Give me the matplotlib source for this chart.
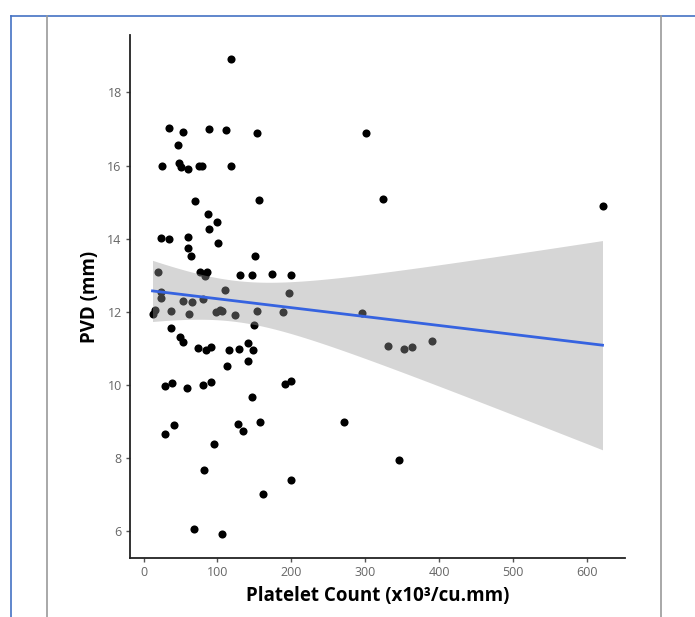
import numpy as np
import matplotlib
matplotlib.use('Agg')
import matplotlib.pyplot as plt
from matplotlib.lines import Line2D

plt.rcParams['font.family'] = ['Open Sans', 'DejaVu Sans']

# ── Data ────────────────────────────────────────────────────────────────
platelet = [118, 34, 53, 47, 89, 112, 153,
            25, 48, 50, 60, 75, 79, 118,
            70, 156, 87, 100, 88,
            23, 35, 60, 101, 60, 64, 151,
            19, 76, 86, 83, 130, 147, 174, 199,
            24, 24, 53, 66, 80, 110, 197,
            12, 16, 37.5, 62, 98.5, 104, 106.5, 124, 153.5, 189,
            37, 49, 53, 73, 85, 91, 116, 129, 142, 148, 149.5, 142, 113,
            28.5, 38, 59, 80, 91, 192, 199, 147,
            41, 29, 128, 135, 157.6, 95, 82, 199, 161, 68, 106,
            301, 324, 621.5, 296, 331, 352, 364, 390, 272, 346]
pvd = [18.92, 17.02, 16.93, 16.57, 17.0, 16.96, 16.89,
       15.98, 16.08, 15.97, 15.9, 15.99, 15.99, 15.98,
       15.03, 15.06, 14.68, 14.47, 14.26,
       14.02, 14.0, 14.04, 13.89, 13.75, 13.54, 13.54,
       13.08, 13.08, 13.08, 12.97, 13.01, 13.01, 13.04, 13.01,
       12.55, 12.37, 12.31, 12.28, 12.34, 12.6, 12.52,
       11.94, 12.06, 12.01, 11.93, 11.99, 12.06, 12.01, 11.92, 12.02, 11.99,
       11.57, 11.32, 11.17, 11.01, 10.96, 11.04, 10.97, 10.99, 11.15, 10.96, 11.63, 10.66, 10.52,
       9.97, 10.06, 9.92, 10.01, 10.08, 10.04, 10.1, 9.67,
       8.92, 8.67, 8.94, 8.73, 8.98, 8.38, 7.67, 7.41, 7.02, 6.07, 5.92,
       16.88, 15.08, 14.9, 11.98, 11.07, 10.98, 11.04, 11.2, 9.0, 7.96]

x = np.array(platelet, dtype=float)
y = np.array(pvd, dtype=float)

# ── Linear fit with 95% confidence band (like geom_smooth(method='lm')) ─
n = len(x)
slope, intercept = np.polyfit(x, y, 1)
xs = np.linspace(x.min(), x.max(), 200)
ys = intercept + slope * xs
resid = y - (intercept + slope * x)
s_err = np.sqrt(np.sum(resid ** 2) / (n - 2))
t_crit = 1.986
half = t_crit * s_err * np.sqrt(1.0 / n + (xs - x.mean()) ** 2 / np.sum((x - x.mean()) ** 2))

# ── Figure ──────────────────────────────────────────────────────────────
fig = plt.figure(figsize=(6.95, 6.17), dpi=100)
ax = fig.add_axes([130 / 695, 1 - 558 / 617, 495 / 695, 523 / 617])

ax.scatter(x, y, s=34, color='black', linewidths=0, zorder=2)
ax.fill_between(xs, ys - half, ys + half, color='#999999', alpha=0.4,
                linewidth=0, zorder=3)
ax.plot(xs, ys, color='#3663E0', linewidth=2.0, zorder=4)

xr = x.max() - x.min()
yr = y.max() - y.min()
ax.set_xlim(x.min() - 0.05 * xr, x.max() + 0.05 * xr)
ax.set_ylim(y.min() - 0.05 * yr, y.max() + 0.05 * yr)
ax.set_xticks([0, 100, 200, 300, 400, 500, 600])
ax.set_yticks([6, 8, 10, 12, 14, 16, 18])

for side in ['top', 'right']:
    ax.spines[side].set_visible(False)
for side in ['left', 'bottom']:
    ax.spines[side].set_linewidth(1.3)
    ax.spines[side].set_color('#222222')

ax.tick_params(axis='both', length=3, width=1, color='#555555',
               labelcolor='#666666', labelsize=9, pad=3)

ax.set_xlabel('Platelet Count (x10³/cu.mm)', fontsize=13.5, fontweight='bold',
              labelpad=5)
ax.set_ylabel('PVD (mm)', fontsize=13.5, fontweight='bold', labelpad=5)

# Frame lines of the surrounding table cell
W, H = 695, 617
frame = [((11, 695), (H - 15.5, H - 15.5), '#4472C4'),
         ((11, 11), (0, H - 15.5), '#4472C4'),
         ((47, 47), (0, H - 15.5), '#999999'),
         ((661, 661), (0, H - 15.5), '#999999')]
for xx, yy, c in frame:
    fig.add_artist(Line2D([v / W for v in xx], [v / H for v in yy],
                          color=c, linewidth=1.2, transform=fig.transFigure))

fig.savefig('out.png', dpi=100)
